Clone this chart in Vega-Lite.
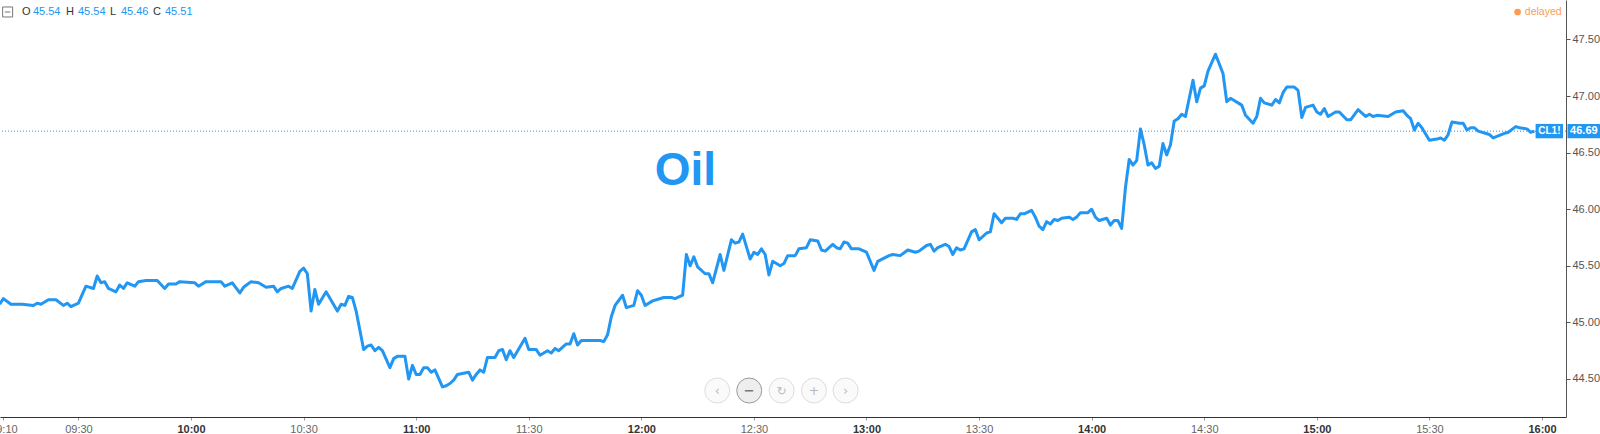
{
  "$schema": "https://vega.github.io/schema/vega-lite/v6.json",
  "width": 1566,
  "height": 417,
  "autosize": {"type": "none"},
  "padding": {"left": 0, "top": 0, "right": 34, "bottom": 17},
  "background": "white",
  "config": {"view": {"stroke": null}, "font": "Liberation Sans"},
  "layer": [
    {
      "data": {
        "format": {"parse": {"t": "utc:'%H:%M'"}},
        "values": [
          {"t":"09:09","p":45.16},{"t":"09:10","p":45.21},{"t":"09:12","p":45.16},{"t":"09:15","p":45.16},{"t":"09:18","p":45.15},{"t":"09:19","p":45.17},{"t":"09:20","p":45.16},{"t":"09:22","p":45.20},{"t":"09:24","p":45.20},{"t":"09:26","p":45.15},{"t":"09:27","p":45.17},{"t":"09:28","p":45.14},{"t":"09:30","p":45.17},{"t":"09:32","p":45.32},{"t":"09:34","p":45.30},{"t":"09:35","p":45.41},{"t":"09:36","p":45.35},{"t":"09:37","p":45.36},{"t":"09:38","p":45.30},{"t":"09:40","p":45.27},{"t":"09:41","p":45.33},{"t":"09:42","p":45.30},{"t":"09:43","p":45.35},{"t":"09:45","p":45.32},{"t":"09:46","p":45.36},{"t":"09:48","p":45.37},{"t":"09:51","p":45.37},{"t":"09:53","p":45.30},{"t":"09:54","p":45.34},{"t":"09:56","p":45.34},{"t":"09:57","p":45.36},
          {"t":"10:01","p":45.35},{"t":"10:02","p":45.32},{"t":"10:04","p":45.36},{"t":"10:06","p":45.36},{"t":"10:08","p":45.36},{"t":"10:09","p":45.32},{"t":"10:11","p":45.35},{"t":"10:13","p":45.26},{"t":"10:14","p":45.31},{"t":"10:16","p":45.36},{"t":"10:18","p":45.35},{"t":"10:20","p":45.31},{"t":"10:22","p":45.32},{"t":"10:23","p":45.27},{"t":"10:24","p":45.30},{"t":"10:26","p":45.32},{"t":"10:27","p":45.30},{"t":"10:29","p":45.45},{"t":"10:30","p":45.48},{"t":"10:31","p":45.43},{"t":"10:32","p":45.10},{"t":"10:33","p":45.29},{"t":"10:34","p":45.16},{"t":"10:36","p":45.27},{"t":"10:39","p":45.10},{"t":"10:40","p":45.16},{"t":"10:41","p":45.15},{"t":"10:42","p":45.23},{"t":"10:43","p":45.22},{"t":"10:44","p":45.10},{"t":"10:46","p":44.76},{"t":"10:47","p":44.79},{"t":"10:48","p":44.80},{"t":"10:49","p":44.75},{"t":"10:50","p":44.78},{"t":"10:51","p":44.75},{"t":"10:53","p":44.60},{"t":"10:54","p":44.68},{"t":"10:55","p":44.70},{"t":"10:57","p":44.70},{"t":"10:58","p":44.50},{"t":"10:59","p":44.62},
          {"t":"11:00","p":44.54},{"t":"11:01","p":44.54},{"t":"11:02","p":44.60},{"t":"11:03","p":44.60},{"t":"11:04","p":44.56},{"t":"11:05","p":44.58},{"t":"11:07","p":44.43},{"t":"11:08","p":44.44},{"t":"11:09","p":44.46},{"t":"11:10","p":44.49},{"t":"11:11","p":44.54},{"t":"11:14","p":44.56},{"t":"11:15","p":44.49},{"t":"11:16","p":44.54},{"t":"11:17","p":44.58},{"t":"11:18","p":44.56},{"t":"11:19","p":44.69},{"t":"11:21","p":44.69},{"t":"11:22","p":44.75},{"t":"11:23","p":44.76},{"t":"11:24","p":44.67},{"t":"11:25","p":44.75},{"t":"11:26","p":44.69},{"t":"11:29","p":44.86},{"t":"11:30","p":44.76},{"t":"11:32","p":44.76},{"t":"11:33","p":44.71},{"t":"11:35","p":44.75},{"t":"11:36","p":44.73},{"t":"11:37","p":44.77},{"t":"11:38","p":44.75},{"t":"11:40","p":44.81},{"t":"11:41","p":44.81},{"t":"11:42","p":44.90},{"t":"11:43","p":44.80},{"t":"11:44","p":44.84},{"t":"11:49","p":44.84},{"t":"11:50","p":44.83},{"t":"11:51","p":44.89},{"t":"11:52","p":45.05},{"t":"11:53","p":45.15},{"t":"11:55","p":45.24},{"t":"11:56","p":45.13},{"t":"11:58","p":45.15},{"t":"11:59","p":45.28},
          {"t":"12:00","p":45.24},{"t":"12:01","p":45.15},{"t":"12:03","p":45.19},{"t":"12:04","p":45.20},{"t":"12:06","p":45.22},{"t":"12:08","p":45.22},{"t":"12:09","p":45.21},{"t":"12:11","p":45.24},{"t":"12:12","p":45.60},{"t":"12:13","p":45.50},{"t":"12:14","p":45.58},{"t":"12:15","p":45.49},{"t":"12:17","p":45.43},{"t":"12:18","p":45.43},{"t":"12:19","p":45.35},{"t":"12:21","p":45.60},{"t":"12:22","p":45.46},{"t":"12:24","p":45.73},{"t":"12:25","p":45.70},{"t":"12:26","p":45.71},{"t":"12:27","p":45.78},{"t":"12:29","p":45.56},{"t":"12:30","p":45.62},{"t":"12:31","p":45.60},{"t":"12:32","p":45.65},{"t":"12:33","p":45.60},{"t":"12:34","p":45.42},{"t":"12:35","p":45.54},{"t":"12:37","p":45.50},{"t":"12:38","p":45.52},{"t":"12:39","p":45.59},{"t":"12:41","p":45.59},{"t":"12:42","p":45.65},{"t":"12:44","p":45.66},{"t":"12:45","p":45.73},{"t":"12:47","p":45.72},{"t":"12:48","p":45.64},{"t":"12:49","p":45.63},{"t":"12:51","p":45.69},{"t":"12:52","p":45.66},{"t":"12:53","p":45.65},{"t":"12:54","p":45.71},{"t":"12:55","p":45.70},{"t":"12:56","p":45.65},{"t":"12:58","p":45.65},
          {"t":"13:00","p":45.62},{"t":"13:02","p":45.46},{"t":"13:03","p":45.54},{"t":"13:06","p":45.59},{"t":"13:07","p":45.60},{"t":"13:09","p":45.59},{"t":"13:11","p":45.64},{"t":"13:13","p":45.62},{"t":"13:14","p":45.63},{"t":"13:16","p":45.68},{"t":"13:17","p":45.69},{"t":"13:18","p":45.63},{"t":"13:19","p":45.66},{"t":"13:21","p":45.69},{"t":"13:22","p":45.67},{"t":"13:23","p":45.60},{"t":"13:24","p":45.66},{"t":"13:25","p":45.64},{"t":"13:26","p":45.65},{"t":"13:28","p":45.80},{"t":"13:29","p":45.82},{"t":"13:30","p":45.73},{"t":"13:32","p":45.79},{"t":"13:33","p":45.80},{"t":"13:34","p":45.96},{"t":"13:36","p":45.88},{"t":"13:37","p":45.92},{"t":"13:39","p":45.92},{"t":"13:40","p":45.91},{"t":"13:41","p":45.96},{"t":"13:42","p":45.96},{"t":"13:44","p":45.99},{"t":"13:45","p":45.93},{"t":"13:46","p":45.85},{"t":"13:47","p":45.82},{"t":"13:48","p":45.89},{"t":"13:49","p":45.87},{"t":"13:50","p":45.91},{"t":"13:51","p":45.90},{"t":"13:52","p":45.92},{"t":"13:54","p":45.93},{"t":"13:55","p":45.91},{"t":"13:56","p":45.93},{"t":"13:57","p":45.97},{"t":"13:59","p":45.97},
          {"t":"14:00","p":46.00},{"t":"14:01","p":45.93},{"t":"14:02","p":45.90},{"t":"14:04","p":45.92},{"t":"14:05","p":45.86},{"t":"14:06","p":45.90},{"t":"14:07","p":45.90},{"t":"14:08","p":45.83},{"t":"14:09","p":46.19},{"t":"14:10","p":46.44},{"t":"14:11","p":46.39},{"t":"14:12","p":46.43},{"t":"14:13","p":46.71},{"t":"14:14","p":46.57},{"t":"14:15","p":46.39},{"t":"14:16","p":46.41},{"t":"14:17","p":46.36},{"t":"14:18","p":46.38},{"t":"14:19","p":46.58},{"t":"14:20","p":46.48},{"t":"14:21","p":46.57},{"t":"14:22","p":46.78},{"t":"14:23","p":46.80},{"t":"14:24","p":46.84},{"t":"14:25","p":46.82},{"t":"14:27","p":47.14},{"t":"14:28","p":46.95},{"t":"14:29","p":47.07},{"t":"14:30","p":47.09},{"t":"14:31","p":47.22},{"t":"14:33","p":47.37},{"t":"14:35","p":47.20},{"t":"14:36","p":46.95},{"t":"14:37","p":46.98},{"t":"14:40","p":46.92},{"t":"14:41","p":46.83},{"t":"14:43","p":46.76},{"t":"14:44","p":46.82},{"t":"14:45","p":46.98},{"t":"14:46","p":46.94},{"t":"14:48","p":46.92},{"t":"14:49","p":46.97},{"t":"14:50","p":46.94},{"t":"14:51","p":47.03},{"t":"14:52","p":47.08},{"t":"14:54","p":47.08},{"t":"14:55","p":47.05},{"t":"14:56","p":46.81},{"t":"14:57","p":46.90},{"t":"14:59","p":46.92},
          {"t":"15:00","p":46.86},{"t":"15:01","p":46.84},{"t":"15:02","p":46.89},{"t":"15:03","p":46.82},{"t":"15:05","p":46.86},{"t":"15:06","p":46.86},{"t":"15:08","p":46.79},{"t":"15:09","p":46.79},{"t":"15:11","p":46.88},{"t":"15:13","p":46.82},{"t":"15:14","p":46.84},{"t":"15:15","p":46.82},{"t":"15:16","p":46.83},{"t":"15:19","p":46.82},{"t":"15:21","p":46.86},{"t":"15:23","p":46.87},{"t":"15:24","p":46.83},{"t":"15:25","p":46.80},{"t":"15:26","p":46.70},{"t":"15:27","p":46.76},{"t":"15:28","p":46.72},{"t":"15:30","p":46.61},{"t":"15:32","p":46.62},{"t":"15:33","p":46.63},{"t":"15:34","p":46.61},{"t":"15:35","p":46.66},{"t":"15:36","p":46.77},{"t":"15:38","p":46.76},{"t":"15:39","p":46.76},{"t":"15:40","p":46.70},{"t":"15:41","p":46.72},{"t":"15:42","p":46.72},{"t":"15:43","p":46.69},{"t":"15:46","p":46.66},{"t":"15:47","p":46.63},{"t":"15:50","p":46.67},{"t":"15:51","p":46.68},{"t":"15:53","p":46.73},{"t":"15:54","p":46.72},{"t":"15:56","p":46.71},{"t":"15:57","p":46.68},{"t":"15:58","p":46.69}
        ]
      },
      "mark": {"type": "line", "color": "#2196f3", "strokeWidth": 3, "clip": true, "strokeJoin": "round"},
      "encoding": {
        "x": {
          "field": "t", "type": "temporal",
          "scale": {"type": "utc", "domain": [
            {"year":1900,"month":1,"date":1,"hours":9,"minutes":9,"seconds":6,"utc":true},
            {"year":1900,"month":1,"date":1,"hours":16,"minutes":6,"seconds":24,"utc":true}
          ]},
          "axis": {
            "title": null,
            "values": [
              {"year":1900,"month":1,"date":1,"hours":9,"minutes":10,"utc":true},
              {"year":1900,"month":1,"date":1,"hours":9,"minutes":30,"utc":true},
              {"year":1900,"month":1,"date":1,"hours":10,"minutes":0,"utc":true},
              {"year":1900,"month":1,"date":1,"hours":10,"minutes":30,"utc":true},
              {"year":1900,"month":1,"date":1,"hours":11,"minutes":0,"utc":true},
              {"year":1900,"month":1,"date":1,"hours":11,"minutes":30,"utc":true},
              {"year":1900,"month":1,"date":1,"hours":12,"minutes":0,"utc":true},
              {"year":1900,"month":1,"date":1,"hours":12,"minutes":30,"utc":true},
              {"year":1900,"month":1,"date":1,"hours":13,"minutes":0,"utc":true},
              {"year":1900,"month":1,"date":1,"hours":13,"minutes":30,"utc":true},
              {"year":1900,"month":1,"date":1,"hours":14,"minutes":0,"utc":true},
              {"year":1900,"month":1,"date":1,"hours":14,"minutes":30,"utc":true},
              {"year":1900,"month":1,"date":1,"hours":15,"minutes":0,"utc":true},
              {"year":1900,"month":1,"date":1,"hours":15,"minutes":30,"utc":true},
              {"year":1900,"month":1,"date":1,"hours":16,"minutes":0,"utc":true}
            ],
            "format": "%H:%M",
            "labelFont": "Liberation Sans",
            "labelFontSize": 11,
            "labelColor": {"condition": {"test": "utcminutes(datum.value) === 0", "value": "#333333"}, "value": "#666666"},
            "labelFontWeight": {"condition": {"test": "utcminutes(datum.value) === 0", "value": "bold"}, "value": "normal"},
            "domainColor": "#333333",
            "tickColor": "#999999",
            "tickSize": 3,
            "labelPadding": 3,
            "grid": false,
            "labelOverlap": false,
            "labelFlush": false,
            "labelBound": false
          }
        },
        "y": {
          "field": "p", "type": "quantitative",
          "scale": {"domain": [44.164, 47.849], "nice": false, "zero": false},
          "axis": {
            "orient": "right",
            "title": null,
            "values": [44.5, 45, 45.5, 46, 46.5, 47, 47.5],
            "format": ".2f",
            "labelFont": "Liberation Sans",
            "labelFontSize": 11,
            "labelColor": "#555555",
            "domainColor": "#555555",
            "tickColor": "#555555",
            "tickSize": 4,
            "labelPadding": 2,
            "grid": false
          }
        }
      }
    },
    {
      "data": {"values": [{}]},
      "mark": {"type": "rule", "color": "#2196f3", "strokeDash": [1, 2], "strokeWidth": 1},
      "encoding": {"y": {"datum": 46.69, "type": "quantitative", "axis": {"title": null}}}
    },
    {
      "data": {"values": [{}]},
      "mark": {"type": "text", "text": "Oil", "font": "Liberation Sans", "fontSize": 46, "fontWeight": "bold", "color": "#2196f3", "align": "center", "baseline": "alphabetic"},
      "encoding": {
        "x": {"datum": {"year":1900,"month":1,"date":1,"hours":12,"minutes":11,"seconds":45,"utc":true}, "type": "temporal", "axis": {"title": null}},
        "y": {"datum": 46.21, "type": "quantitative", "axis": {"title": null}}
      }
    },
    {
      "data": {"values": [{}]},
      "mark": {"type": "rect", "color": "#2196f3"},
      "encoding": {
        "x": {"datum": {"year":1900,"month":1,"date":1,"hours":15,"minutes":58,"seconds":18,"utc":true}, "type": "temporal", "axis": {"title": null}},
        "x2": {"datum": {"year":1900,"month":1,"date":1,"hours":16,"minutes":5,"seconds":36,"utc":true}},
        "y": {"datum": 46.754, "type": "quantitative", "axis": {"title": null}},
        "y2": {"datum": 46.627}
      }
    },
    {
      "data": {"values": [{}]},
      "mark": {"type": "text", "text": "CL1!", "font": "Liberation Sans", "fontSize": 10, "fontWeight": "bold", "color": "white", "align": "center", "baseline": "middle"},
      "encoding": {
        "x": {"datum": {"year":1900,"month":1,"date":1,"hours":16,"minutes":1,"seconds":58,"utc":true}, "type": "temporal", "axis": {"title": null}},
        "y": {"datum": 46.69, "type": "quantitative", "axis": {"title": null}}
      }
    },
    {
      "data": {"values": [{}]},
      "mark": {"type": "rect", "color": "#2196f3"},
      "encoding": {
        "x": {"datum": {"year":1900,"month":1,"date":1,"hours":16,"minutes":6,"seconds":48,"utc":true}, "type": "temporal", "axis": {"title": null}},
        "x2": {"datum": {"year":1900,"month":1,"date":1,"hours":16,"minutes":15,"seconds":30,"utc":true}},
        "y": {"datum": 46.754, "type": "quantitative", "axis": {"title": null}},
        "y2": {"datum": 46.627}
      }
    },
    {
      "data": {"values": [{}]},
      "mark": {"type": "text", "text": "46.69", "font": "Liberation Sans", "fontSize": 11, "fontWeight": "bold", "color": "white", "align": "center", "baseline": "middle"},
      "encoding": {
        "x": {"datum": {"year":1900,"month":1,"date":1,"hours":16,"minutes":11,"seconds":10,"utc":true}, "type": "temporal", "axis": {"title": null}},
        "y": {"datum": 46.69, "type": "quantitative", "axis": {"title": null}}
      }
    },
    {
      "data": {"values": [{}]},
      "mark": {"type": "point", "shape": "M-1,-1H1V1H-1Z M-0.55,0H0.55", "size": 100, "filled": false, "stroke": "#777777", "strokeWidth": 1, "opacity": 1},
      "encoding": {
        "x": {"datum": {"year":1900,"month":1,"date":1,"hours":9,"minutes":11,"seconds":8,"utc":true}, "type": "temporal", "axis": {"title": null}},
        "y": {"datum": 47.743, "type": "quantitative", "axis": {"title": null}}
      }
    },
    {
      "data": {"values": [{}]},
      "mark": {"type": "text", "text": "O", "fontSize": 11, "color": "#333333", "align": "left", "baseline": "middle"},
      "encoding": {
        "x": {"datum": {"year":1900,"month":1,"date":1,"hours":9,"minutes":14,"seconds":58,"utc":true}, "type": "temporal", "axis": {"title": null}},
        "y": {"datum": 47.743, "type": "quantitative", "axis": {"title": null}}
      }
    },
    {
      "data": {"values": [{}]},
      "mark": {"type": "text", "text": "45.54", "fontSize": 11, "color": "#2196f3", "align": "left", "baseline": "middle"},
      "encoding": {
        "x": {"datum": {"year":1900,"month":1,"date":1,"hours":9,"minutes":17,"seconds":53,"utc":true}, "type": "temporal", "axis": {"title": null}},
        "y": {"datum": 47.743, "type": "quantitative", "axis": {"title": null}}
      }
    },
    {
      "data": {"values": [{}]},
      "mark": {"type": "text", "text": "H", "fontSize": 11, "color": "#333333", "align": "left", "baseline": "middle"},
      "encoding": {
        "x": {"datum": {"year":1900,"month":1,"date":1,"hours":9,"minutes":26,"seconds":41,"utc":true}, "type": "temporal", "axis": {"title": null}},
        "y": {"datum": 47.743, "type": "quantitative", "axis": {"title": null}}
      }
    },
    {
      "data": {"values": [{}]},
      "mark": {"type": "text", "text": "45.54", "fontSize": 11, "color": "#2196f3", "align": "left", "baseline": "middle"},
      "encoding": {
        "x": {"datum": {"year":1900,"month":1,"date":1,"hours":9,"minutes":29,"seconds":53,"utc":true}, "type": "temporal", "axis": {"title": null}},
        "y": {"datum": 47.743, "type": "quantitative", "axis": {"title": null}}
      }
    },
    {
      "data": {"values": [{}]},
      "mark": {"type": "text", "text": "L", "fontSize": 11, "color": "#333333", "align": "left", "baseline": "middle"},
      "encoding": {
        "x": {"datum": {"year":1900,"month":1,"date":1,"hours":9,"minutes":38,"seconds":25,"utc":true}, "type": "temporal", "axis": {"title": null}},
        "y": {"datum": 47.743, "type": "quantitative", "axis": {"title": null}}
      }
    },
    {
      "data": {"values": [{}]},
      "mark": {"type": "text", "text": "45.46", "fontSize": 11, "color": "#2196f3", "align": "left", "baseline": "middle"},
      "encoding": {
        "x": {"datum": {"year":1900,"month":1,"date":1,"hours":9,"minutes":41,"seconds":20,"utc":true}, "type": "temporal", "axis": {"title": null}},
        "y": {"datum": 47.743, "type": "quantitative", "axis": {"title": null}}
      }
    },
    {
      "data": {"values": [{}]},
      "mark": {"type": "text", "text": "C", "fontSize": 11, "color": "#333333", "align": "left", "baseline": "middle"},
      "encoding": {
        "x": {"datum": {"year":1900,"month":1,"date":1,"hours":9,"minutes":49,"seconds":52,"utc":true}, "type": "temporal", "axis": {"title": null}},
        "y": {"datum": 47.743, "type": "quantitative", "axis": {"title": null}}
      }
    },
    {
      "data": {"values": [{}]},
      "mark": {"type": "text", "text": "45.51", "fontSize": 11, "color": "#2196f3", "align": "left", "baseline": "middle"},
      "encoding": {
        "x": {"datum": {"year":1900,"month":1,"date":1,"hours":9,"minutes":53,"seconds":4,"utc":true}, "type": "temporal", "axis": {"title": null}},
        "y": {"datum": 47.743, "type": "quantitative", "axis": {"title": null}}
      }
    },
    {
      "data": {"values": [{}]},
      "mark": {"type": "point", "shape": "circle", "size": 45, "filled": true, "color": "#ff9a4f", "opacity": 1},
      "encoding": {
        "x": {"datum": {"year":1900,"month":1,"date":1,"hours":15,"minutes":53,"seconds":30,"utc":true}, "type": "temporal", "axis": {"title": null}},
        "y": {"datum": 47.743, "type": "quantitative", "axis": {"title": null}}
      }
    },
    {
      "data": {"values": [{}]},
      "mark": {"type": "text", "text": "delayed", "fontSize": 10.5, "color": "#ff9a4f", "align": "left", "baseline": "middle"},
      "encoding": {
        "x": {"datum": {"year":1900,"month":1,"date":1,"hours":15,"minutes":55,"seconds":26,"utc":true}, "type": "temporal", "axis": {"title": null}},
        "y": {"datum": 47.743, "type": "quantitative", "axis": {"title": null}}
      }
    },
    {
      "data": {"values": [{}]},
      "mark": {"type": "point", "shape": "circle", "size": 625, "filled": true, "fill": "#fafafa", "stroke": "#dddddd", "strokeWidth": 1, "opacity": 1},
      "encoding": {
        "x": {"datum": {"year":1900,"month":1,"date":1,"hours":12,"minutes":20,"seconds":14,"utc":true}, "type": "temporal", "axis": {"title": null}},
        "y": {"datum": 44.398, "type": "quantitative", "axis": {"title": null}}
      }
    },
    {
      "data": {"values": [{}]},
      "mark": {"type": "point", "shape": "circle", "size": 625, "filled": true, "fill": "#eeeeee", "stroke": "#999999", "strokeWidth": 1, "opacity": 1},
      "encoding": {
        "x": {"datum": {"year":1900,"month":1,"date":1,"hours":12,"minutes":28,"seconds":45,"utc":true}, "type": "temporal", "axis": {"title": null}},
        "y": {"datum": 44.398, "type": "quantitative", "axis": {"title": null}}
      }
    },
    {
      "data": {"values": [{}]},
      "mark": {"type": "point", "shape": "circle", "size": 625, "filled": true, "fill": "#fafafa", "stroke": "#dddddd", "strokeWidth": 1, "opacity": 1},
      "encoding": {
        "x": {"datum": {"year":1900,"month":1,"date":1,"hours":12,"minutes":37,"seconds":23,"utc":true}, "type": "temporal", "axis": {"title": null}},
        "y": {"datum": 44.398, "type": "quantitative", "axis": {"title": null}}
      }
    },
    {
      "data": {"values": [{}]},
      "mark": {"type": "point", "shape": "circle", "size": 625, "filled": true, "fill": "#fafafa", "stroke": "#dddddd", "strokeWidth": 1, "opacity": 1},
      "encoding": {
        "x": {"datum": {"year":1900,"month":1,"date":1,"hours":12,"minutes":46,"seconds":0,"utc":true}, "type": "temporal", "axis": {"title": null}},
        "y": {"datum": 44.398, "type": "quantitative", "axis": {"title": null}}
      }
    },
    {
      "data": {"values": [{}]},
      "mark": {"type": "point", "shape": "circle", "size": 625, "filled": true, "fill": "#fafafa", "stroke": "#dddddd", "strokeWidth": 1, "opacity": 1},
      "encoding": {
        "x": {"datum": {"year":1900,"month":1,"date":1,"hours":12,"minutes":54,"seconds":26,"utc":true}, "type": "temporal", "axis": {"title": null}},
        "y": {"datum": 44.398, "type": "quantitative", "axis": {"title": null}}
      }
    },
    {
      "data": {"values": [{}]},
      "mark": {"type": "text", "text": "‹", "font": "DejaVu Sans", "fontSize": 13, "color": "#bbbbbb", "align": "center", "baseline": "middle"},
      "encoding": {
        "x": {"datum": {"year":1900,"month":1,"date":1,"hours":12,"minutes":20,"seconds":14,"utc":true}, "type": "temporal", "axis": {"title": null}},
        "y": {"datum": 44.398, "type": "quantitative", "axis": {"title": null}}
      }
    },
    {
      "data": {"values": [{}]},
      "mark": {"type": "text", "text": "−", "font": "DejaVu Sans", "fontSize": 13, "fontWeight": "bold", "color": "#777777", "align": "center", "baseline": "middle"},
      "encoding": {
        "x": {"datum": {"year":1900,"month":1,"date":1,"hours":12,"minutes":28,"seconds":45,"utc":true}, "type": "temporal", "axis": {"title": null}},
        "y": {"datum": 44.398, "type": "quantitative", "axis": {"title": null}}
      }
    },
    {
      "data": {"values": [{}]},
      "mark": {"type": "text", "text": "↻", "font": "DejaVu Sans", "fontSize": 12, "color": "#bbbbbb", "align": "center", "baseline": "middle"},
      "encoding": {
        "x": {"datum": {"year":1900,"month":1,"date":1,"hours":12,"minutes":37,"seconds":23,"utc":true}, "type": "temporal", "axis": {"title": null}},
        "y": {"datum": 44.398, "type": "quantitative", "axis": {"title": null}}
      }
    },
    {
      "data": {"values": [{}]},
      "mark": {"type": "text", "text": "+", "font": "DejaVu Sans", "fontSize": 13, "color": "#bbbbbb", "align": "center", "baseline": "middle"},
      "encoding": {
        "x": {"datum": {"year":1900,"month":1,"date":1,"hours":12,"minutes":46,"seconds":0,"utc":true}, "type": "temporal", "axis": {"title": null}},
        "y": {"datum": 44.398, "type": "quantitative", "axis": {"title": null}}
      }
    },
    {
      "data": {"values": [{}]},
      "mark": {"type": "text", "text": "›", "font": "DejaVu Sans", "fontSize": 13, "color": "#bbbbbb", "align": "center", "baseline": "middle"},
      "encoding": {
        "x": {"datum": {"year":1900,"month":1,"date":1,"hours":12,"minutes":54,"seconds":26,"utc":true}, "type": "temporal", "axis": {"title": null}},
        "y": {"datum": 44.398, "type": "quantitative", "axis": {"title": null}}
      }
    }
  ]
}
